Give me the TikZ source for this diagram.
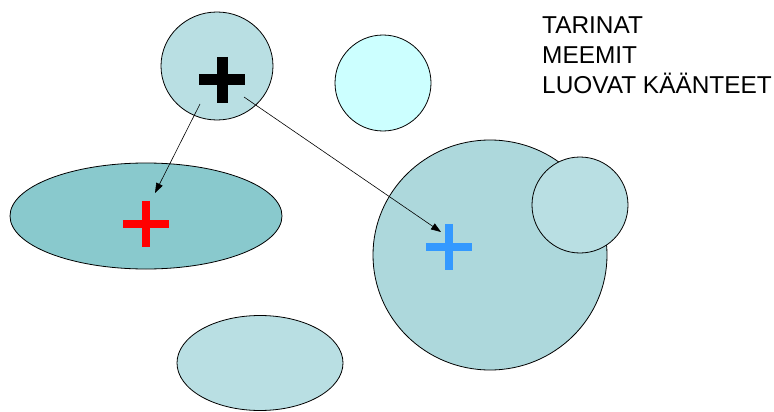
\documentclass[tikz,border=0pt]{standalone}
\usepackage{fontspec}
\setmainfont{Liberation Sans}
\usetikzlibrary{shapes.geometric,arrows.meta}
\definecolor{paleblue}{HTML}{B9DFE3}
\definecolor{midblue}{HTML}{ADD8DC}
\definecolor{darkteal}{HTML}{89C9CD}
\definecolor{icecyan}{HTML}{CCFFFF}
\definecolor{plusblue}{HTML}{3399FF}
\begin{document}
\begin{tikzpicture}[x=1pt, y=-1pt,
        blob/.style={ellipse, draw=black, line width=0.8pt, inner sep=0pt},
        plusmark/.style={inner sep=0pt, minimum size=46pt},
        bar/.style={line width=#1, line cap=butt},
        link/.style={-{Triangle[length=10pt,width=7pt]}, line width=0.6pt},
        label/.style={anchor=base west, inner sep=0pt, font=\fontsize{24.4}{30}\selectfont},
    ]
	\useasboundingbox (0,0) rectangle (774,412);

	% clouds
	\node[blob, fill=paleblue, minimum width=112, minimum height=108] (top) at (217,66) {};
	\node[blob, fill=icecyan, minimum width=96, minimum height=96] (mid) at (383,83) {};
	\node[blob, fill=darkteal, minimum width=272, minimum height=106] (left) at (146,216) {};
	\node[blob, fill=midblue, minimum width=234, minimum height=230] (big) at (490,255) {};
	\node[blob, fill=paleblue, minimum width=96, minimum height=96] (small) at (580,205) {};
	\node[blob, fill=paleblue, minimum width=166, minimum height=95] (bottom) at (260,363) {};

	% crosses
	\node[plusmark] (p_black) at (222,80) {};
	\node[plusmark] (p_red) at (146,224) {};
	\node[plusmark] (p_blue) at (449,247) {};
	\draw[bar=11pt, black] (p_black.north) -- (p_black.south) (p_black.west) -- (p_black.east);
	\draw[bar=8pt, red] (p_red.north) -- (p_red.south) (p_red.west) -- (p_red.east);
	\draw[bar=8pt, plusblue] (p_blue.north) -- (p_blue.south) (p_blue.west) -- (p_blue.east);

	% arrows
	\coordinate (a_0) at (200,104);
	\coordinate (a_1) at (155,193);
	\coordinate (b_0) at (244,97);
	\coordinate (b_1) at (441,232);
	\draw[link] (a_0) -- (a_1);
	\draw[link] (b_0) -- (b_1);

	% list
	\node[label] (l_1) at (542,34) {TARINAT};
	\node[label] (l_2) at (542,64) {MEEMIT};
	\node[label] (l_3) at (542,94) {LUOVAT KÄÄNTEET};

    \end{tikzpicture}
\end{document}
